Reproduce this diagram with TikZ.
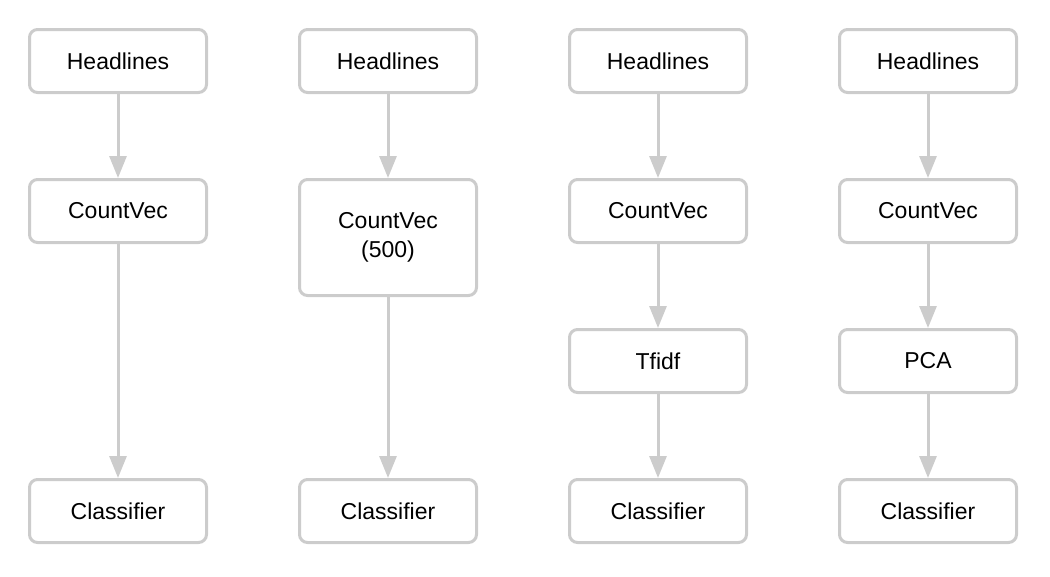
\documentclass[tikz,border=0pt]{standalone}
\usepackage{fontspec}
\setmainfont{Liberation Sans}
\usetikzlibrary{arrows.meta}
\definecolor{boxgray}{HTML}{CCCCCC}
\tikzset{
  stepbox/.style={draw=boxgray, line width=3pt, rounded corners=8pt, fill=white,
    minimum width=177pt, minimum height=63pt, inner sep=0pt, align=center,
    font=\fontsize{23}{29.5}\selectfont},
  conn/.style={draw=boxgray, line width=3pt, -{Triangle[length=22pt,width=17pt]}}
}
\begin{document}
\begin{tikzpicture}[x=1pt,y=-1pt]
\useasboundingbox (0,0) rectangle (1050,576);
% column 1
\node[stepbox] (h1) at (118,61) {Headlines};
\node[stepbox] (c1) at (118,211) {CountVec};
\node[stepbox] (k1) at (118,511) {Classifier};
% column 2
\node[stepbox] (h2) at (388,61) {Headlines};
\node[stepbox, minimum height=116pt] (c2) at (388,237.5) {CountVec\\(500)};
\node[stepbox] (k2) at (388,511) {Classifier};
% column 3
\node[stepbox] (h3) at (658,61) {Headlines};
\node[stepbox] (c3) at (658,211) {CountVec};
\node[stepbox] (t3) at (658,361) {Tfidf};
\node[stepbox] (k3) at (658,511) {Classifier};
% column 4
\node[stepbox] (h4) at (928,61) {Headlines};
\node[stepbox] (c4) at (928,211) {CountVec};
\node[stepbox] (p4) at (928,361) {PCA};
\node[stepbox] (k4) at (928,511) {Classifier};
% connectors
\draw[conn] (h1.south) -- (c1.north);
\draw[conn] (c1.south) -- (k1.north);
\draw[conn] (h2.south) -- (c2.north);
\draw[conn] (c2.south) -- (k2.north);
\draw[conn] (h3.south) -- (c3.north);
\draw[conn] (c3.south) -- (t3.north);
\draw[conn] (t3.south) -- (k3.north);
\draw[conn] (h4.south) -- (c4.north);
\draw[conn] (c4.south) -- (p4.north);
\draw[conn] (p4.south) -- (k4.north);
\end{tikzpicture}
\end{document}
